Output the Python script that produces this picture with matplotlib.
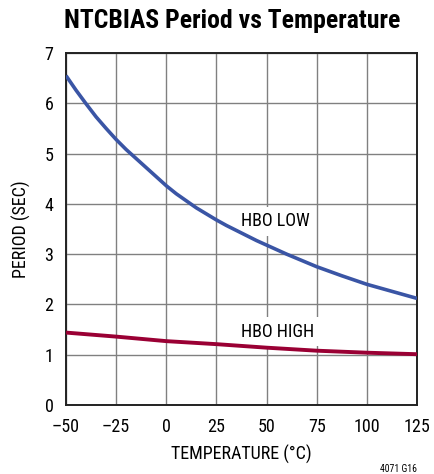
import matplotlib
matplotlib.use("Agg")
import matplotlib.pyplot as plt

# HBO LOW curve (period in seconds vs temperature in C)
temp_low = [-50, -45, -40, -35, -30, -25, -20, -15, -10, -5, 0, 5, 10, 15, 20, 25,
            30, 35, 40, 45, 50, 60, 75, 87.5, 100, 112.5, 125]
period_low = [6.55, 6.26, 5.99, 5.73, 5.50, 5.28, 5.08, 4.90, 4.72, 4.54, 4.36, 4.20,
              4.06, 3.92, 3.80, 3.68, 3.57, 3.47, 3.37, 3.27, 3.18, 3.00, 2.75, 2.57,
              2.40, 2.26, 2.12]

# HBO HIGH curve
temp_high = [-50, -25, 0, 25, 50, 75, 100, 125]
period_high = [1.44, 1.36, 1.27, 1.21, 1.14, 1.08, 1.04, 1.01]

x_ticks = [-50, -25, 0, 25, 50, 75, 100, 125]
x_labels = ["\u201350", "\u201325", "0", "25", "50", "75", "100", "125"]
y_ticks = [0, 1, 2, 3, 4, 5, 6, 7]

plt.rcParams['font.family'] = ['Roboto Condensed', 'DejaVu Sans']

fig = plt.figure(figsize=(4.35, 4.74), dpi=100)
ax = fig.add_axes([66 / 435, 1 - 405 / 474, 351 / 435, 352 / 474])

ax.plot(temp_low, period_low, color="#3a55a5", lw=2.6, zorder=3, solid_capstyle="butt")
ax.plot(temp_high, period_high, color="#9a0034", lw=2.8, zorder=3, solid_capstyle="butt")

ax.set_xlim(-50, 125)
ax.set_ylim(0, 7)
ax.set_xticks(x_ticks)
ax.set_xticklabels(x_labels)
ax.set_yticks(y_ticks)
ax.tick_params(length=0, labelsize=13, pad=9)
ax.grid(True, color="#808080", lw=1)
ax.set_axisbelow(True)
for s in ax.spines.values():
    s.set_linewidth(1.4)
    s.set_color("#222222")

ax.set_xlabel("TEMPERATURE (\u00b0C)", fontsize=13, labelpad=7)
ax.set_ylabel("PERIOD (SEC)", fontsize=13, labelpad=10)

box = dict(facecolor="white", edgecolor="none", pad=4)
ax.text(37.5, 3.65, "HBO LOW", fontsize=13, va="center", ha="left", bbox=box, zorder=2.5)
ax.text(37.5, 1.46, "HBO HIGH", fontsize=13, va="center", ha="left", bbox=box, zorder=2.5)

fig.text(232 / 435, 1 - 21 / 474, "NTCBIAS Period vs Temperature", fontsize=18.5,
         fontweight="bold", ha="center", va="center")
fig.text(417 / 435, 1 - 469 / 474, "4071 G16", fontsize=7, ha="right", va="center")

fig.savefig("out.png", dpi=100)
